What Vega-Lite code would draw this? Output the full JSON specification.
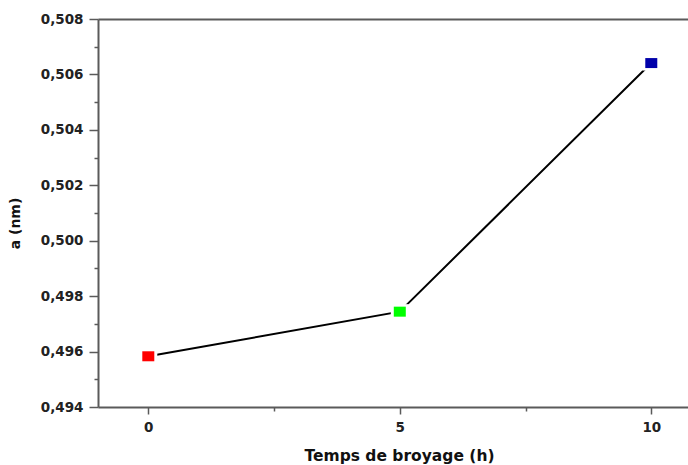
{
  "$schema": "https://vega.github.io/schema/vega-lite/v6.json",
  "width": 590,
  "height": 388,
  "autosize": "none",
  "padding": {"left": 98, "top": 19, "right": 0, "bottom": 58},
  "background": "white",
  "config": {
    "view": {"stroke": null},
    "axis": {
      "domainColor": "#5a5a5a",
      "domainWidth": 2,
      "tickColor": "#5a5a5a",
      "tickWidth": 1.5,
      "grid": false,
      "labelFont": "DejaVu Sans",
      "labelFontWeight": "bold",
      "labelFontSize": 13.5,
      "labelColor": "#222222",
      "titleFont": "DejaVu Sans",
      "titleFontWeight": "bold",
      "titleColor": "#111111"
    }
  },
  "data": {
    "values": [
      {"t": 0, "a": 0.49583},
      {"t": 5, "a": 0.49744},
      {"t": 10, "a": 0.50641}
    ]
  },
  "layer": [
    {
      "mark": {"type": "line", "color": "black", "strokeWidth": 2},
      "encoding": {
        "x": {
          "field": "t", "type": "quantitative",
          "scale": {"domain": [-1, 10.73], "nice": false, "zero": false},
          "axis": {
            "orient": "bottom",
            "values": [0, 5, 10],
            "format": "d",
            "tickSize": 7,
            "labelPadding": 6,
            "title": "Temps de broyage (h)",
            "titleFontSize": 15.5,
            "titlePadding": 15,
            "titleX": 301
          }
        },
        "y": {
          "field": "a", "type": "quantitative",
          "scale": {"domain": [0.494, 0.508], "nice": false, "zero": false},
          "axis": {
            "orient": "left",
            "values": [0.494, 0.496, 0.498, 0.5, 0.502, 0.504, 0.506, 0.508],
            "labelExpr": "replace(format(datum.value, '.3f'), '.', ',')",
            "tickSize": 9,
            "labelPadding": 6,
            "title": "a (nm)",
            "titleFontSize": 14,
            "titlePadding": 18,
            "titleY": 204
          }
        }
      }
    },
    {
      "mark": {"type": "point", "shape": "M-1.2,-1H1.2V1H-1.2Z", "filled": true, "size": 225, "opacity": 1, "color": "white", "strokeWidth": 0},
      "encoding": {
        "x": {"field": "t", "type": "quantitative",
          "axis": {"orient": "top", "labels": false, "ticks": false, "title": null, "domainWidth": 2}},
        "y": {"field": "a", "type": "quantitative",
          "axis": {"orient": "left", "values": [0.495, 0.497, 0.499, 0.501, 0.503, 0.505, 0.507], "labels": false, "domain": false, "title": null, "tickSize": 4}}
      }
    },
    {
      "mark": {"type": "point", "shape": "M-1.2,-1H1.2V1H-1.2Z", "filled": true, "size": 100, "opacity": 1, "strokeWidth": 0},
      "encoding": {
        "x": {"field": "t", "type": "quantitative",
          "axis": {"orient": "bottom", "values": [2.5, 7.5], "labels": false, "domain": false, "title": null, "tickSize": 4}},
        "y": {"field": "a", "type": "quantitative", "axis": null},
        "color": {"field": "t", "type": "nominal",
          "scale": {"domain": [0, 5, 10], "range": ["#ff0000", "#00ff00", "#0000aa"]},
          "legend": null}
      }
    }
  ],
  "resolve": {"axis": {"x": "independent", "y": "independent"}}
}
